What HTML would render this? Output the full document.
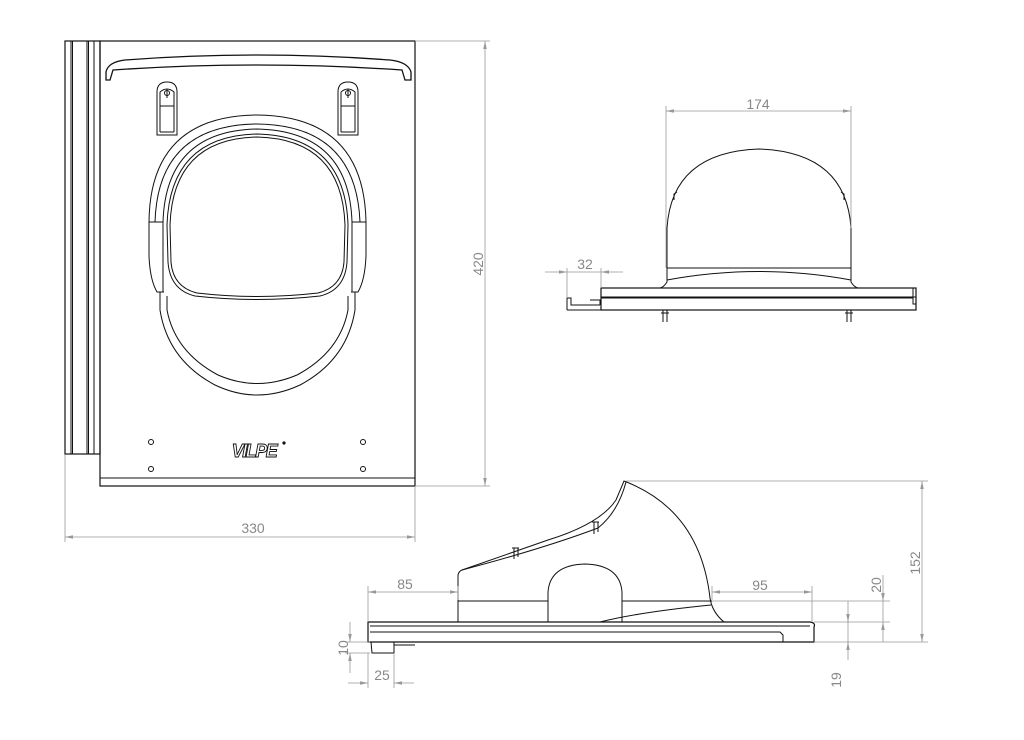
<!DOCTYPE html>
<html><head><meta charset="utf-8"><style>html,body{margin:0;padding:0;background:#fff}svg{display:block}</style></head>
<body>
<svg width="1024" height="740" viewBox="0 0 1024 740" xmlns="http://www.w3.org/2000/svg">
<defs>
<marker id="a" viewBox="0 0 10 6" refX="10" refY="3" markerWidth="10" markerHeight="6" orient="auto-start-reverse"><path d="M0,0.8 L10,3 L0,5.2z" fill="#999"/></marker>
</defs>
<g fill="none" stroke="#111" stroke-width="1">
<!-- FRONT VIEW -->
<rect x="65" y="41" width="35" height="413" stroke-width="1.2"/>
<line x1="71" y1="41" x2="71" y2="454"/><line x1="72.5" y1="41" x2="72.5" y2="454"/>
<line x1="87" y1="41" x2="87" y2="454"/><line x1="88.5" y1="41" x2="88.5" y2="454"/>
<line x1="94" y1="41" x2="94" y2="454"/>
<rect x="100" y="41" width="315" height="445" stroke-width="1.2"/>
<line x1="100" y1="478" x2="415" y2="478"/>
<path d="M106,80 L106,72 Q108,62 125,60 Q257,50 390,60 Q408,62 411,72 L411,80 L405,80 L402,70 Q257,60 113,70 L110,80 Z" stroke-width="1.3"/>
<path d="M157,135 L157,92 Q157,82 167,82 Q177,82 177,92 L177,135 Z"/>
<path d="M160,106 L174,106 M160,132 L174,132 M160,92 Q167,86 174,92 L174,132 M160,92 L160,132"/>
<circle cx="167" cy="93" r="2.5"/><line x1="167" y1="89" x2="167" y2="98"/>
<path d="M338,135 L338,92 Q338,82 348,82 Q358,82 358,92 L358,135 Z"/>
<path d="M341,106 L355,106 M341,132 L355,132 M341,92 Q348,86 355,92 L355,132 M341,92 L341,132"/>
<circle cx="348" cy="93" r="2.5"/><line x1="348" y1="89" x2="348" y2="98"/>
<path d="M149,222 Q150,116 257,115 Q364,116 366,222 L366,256 Q365,280 358,292 L351,292"/>
<path d="M149,222 L149,256 Q150,280 157,292 L164,292"/>
<path d="M155,222 Q158,125 257,124 Q356,125 360,222"/>
<path d="M163,222 Q166,131 257,129 Q349,131 352,222 L352,292"/>
<path d="M163,222 L163,292"/>
<path d="M167,225 Q170,136 257,134 Q345,136 348,225 L347,262 Q345,290 320,296 Q257,303 195,296 Q170,290 168,262 Z"/>
<path d="M170,225 Q173,139 257,137 Q342,139 345,225 L344,262 Q342,287 318,293 Q257,300 197,293 Q173,287 171,262 Z"/>
<line x1="149" y1="222" x2="163" y2="222"/><line x1="352" y1="222" x2="366" y2="222"/>
<path d="M160,292 L160,310 Q168,360 215,385 Q257,405 300,385 Q347,360 355,310 L355,292"/>
<path d="M167,296 L167,310 Q175,352 218,375 Q257,392 297,375 Q340,352 348,310 L348,296"/>
<circle cx="151" cy="442" r="2.5"/><circle cx="363" cy="442" r="2.5"/>
<circle cx="151" cy="469" r="2.5"/><circle cx="363" cy="469" r="2.5"/>

<!-- RIGHT SIDE VIEW -->
<path d="M667,268 L667,228 Q672,152 759,149 Q846,152 851,228 L851,268"/>
<line x1="667" y1="268" x2="851" y2="268"/>
<path d="M667,268 L667,282 Q664,287 660,288 M851,268 L851,282 Q854,287 858,288"/>
<path d="M667,280 Q759,263 851,280"/>
<path d="M674,200 L674,194 L677,192 M844,200 L844,194 L841,192"/>
<rect x="601" y="288" width="315" height="22" stroke-width="1.2"/>
<line x1="601" y1="297" x2="916" y2="297"/>
<line x1="601" y1="298" x2="913" y2="298"/>
<path d="M913,288 L913,304 L916,304"/>
<path d="M567,310 L567,298 L571,298 L571,305 L600,305 M567,310 L601,310 M590,300 L600,300 L600,305"/>
<path d="M663,310 L663,322 M667,310 L667,322 M847,310 L847,322 M851,310 L851,322 M661,313 L669,313 M845,313 L853,313"/>

<!-- BOTTOM SIDE VIEW -->
<path d="M368,622 L810,622 Q816,623 814,627 L814,642 L368,642 Z" stroke-width="1.2"/>
<line x1="370" y1="626" x2="810" y2="626"/>
<path d="M370,632 L780,632 L783,635 L783,642"/>
<path d="M371,642 L372,653 L394,653 L394,642 M394,645 L415,645"/>
<path d="M458,622 L458,575 Q459,571 462,570 L548,540 Q600,524 616,500 L624,481 Q700,510 710,598 Q712,612 724,622"/>
<path d="M462,570 Q545,548 598,528 Q618,512 626,482"/>
<path d="M514,548 L514,559 M518,548 L518,557 M512,548 L519,548"/>
<path d="M594,522 L594,534 M598,522 L598,532 M592,522 L599,522"/>
<line x1="458" y1="601" x2="548" y2="601"/>
<line x1="622" y1="601" x2="712" y2="601"/>
<path d="M548,622 L548,592 Q550,565 585,564 Q620,565 622,592 L622,622"/>
<path d="M600,622 Q640,612 711,605"/>
</g>

<g stroke="#999" stroke-width="0.8" fill="none">
<line x1="415" y1="41" x2="490" y2="41"/><line x1="415" y1="486" x2="490" y2="486"/>
<line x1="485" y1="41" x2="485" y2="486" marker-start="url(#a)" marker-end="url(#a)"/>
<line x1="65" y1="455" x2="65" y2="542"/><line x1="415" y1="486" x2="415" y2="542"/>
<line x1="65" y1="537" x2="415" y2="537" marker-start="url(#a)" marker-end="url(#a)"/>
<line x1="666" y1="106" x2="666" y2="268"/><line x1="851" y1="106" x2="851" y2="228"/>
<line x1="666" y1="111" x2="851" y2="111" marker-start="url(#a)" marker-end="url(#a)"/>
<line x1="567" y1="268" x2="567" y2="298"/><line x1="601" y1="268" x2="601" y2="288"/>
<line x1="545" y1="272" x2="567" y2="272" marker-end="url(#a)"/><line x1="623" y1="272" x2="601" y2="272" marker-end="url(#a)"/>
<line x1="567" y1="272" x2="601" y2="272"/>
<line x1="368" y1="586" x2="368" y2="622"/><line x1="458" y1="586" x2="458" y2="600"/>
<line x1="368" y1="592" x2="458" y2="592" marker-start="url(#a)" marker-end="url(#a)"/>
<line x1="712" y1="586" x2="712" y2="600"/><line x1="812" y1="586" x2="812" y2="622"/>
<line x1="712" y1="592" x2="812" y2="592" marker-start="url(#a)" marker-end="url(#a)"/>
<line x1="626" y1="481" x2="928" y2="481"/><line x1="814" y1="642" x2="928" y2="642"/>
<line x1="922" y1="481" x2="922" y2="642" marker-start="url(#a)" marker-end="url(#a)"/>
<line x1="712" y1="601" x2="890" y2="601"/><line x1="814" y1="622" x2="890" y2="622"/>
<line x1="883" y1="575" x2="883" y2="601" marker-end="url(#a)"/><line x1="883" y1="642" x2="883" y2="622" marker-end="url(#a)"/>
<line x1="883" y1="601" x2="883" y2="622"/>
<line x1="848" y1="601" x2="848" y2="622" marker-end="url(#a)"/><line x1="848" y1="660" x2="848" y2="642" marker-end="url(#a)"/>
<line x1="848" y1="622" x2="848" y2="642"/>
<line x1="345" y1="642" x2="370" y2="642"/><line x1="345" y1="653" x2="370" y2="653"/>
<line x1="350" y1="622" x2="350" y2="642" marker-end="url(#a)"/><line x1="350" y1="673" x2="350" y2="653" marker-end="url(#a)"/>
<line x1="368" y1="653" x2="368" y2="688"/><line x1="394" y1="653" x2="394" y2="688"/>
<line x1="348" y1="683" x2="368" y2="683" marker-end="url(#a)"/><line x1="414" y1="683" x2="394" y2="683" marker-end="url(#a)"/>
</g>
<g fill="#888" font-family="Liberation Sans, sans-serif" font-size="14" text-anchor="middle">
<text x="253" y="533">330</text>
<text transform="translate(483,264) rotate(-90)">420</text>
<text x="758" y="109">174</text>
<text x="585" y="269">32</text>
<text x="405" y="589">85</text>
<text x="760" y="590">95</text>
<text transform="translate(920,563) rotate(-90)">152</text>
<text transform="translate(881,585) rotate(-90)">20</text>
<text transform="translate(841,680) rotate(-90)">19</text>
<text transform="translate(348,648) rotate(-90)">10</text>
<text x="382" y="680">25</text>
</g>
<text x="254" y="457" font-family="Liberation Sans, sans-serif" font-size="18" font-style="italic" font-weight="bold" fill="#fff" stroke="#111" stroke-width="0.9" text-anchor="middle" letter-spacing="-1.5">VILPE</text>
<circle cx="284" cy="443" r="1.6" fill="#111"/>
</svg>
</body></html>
